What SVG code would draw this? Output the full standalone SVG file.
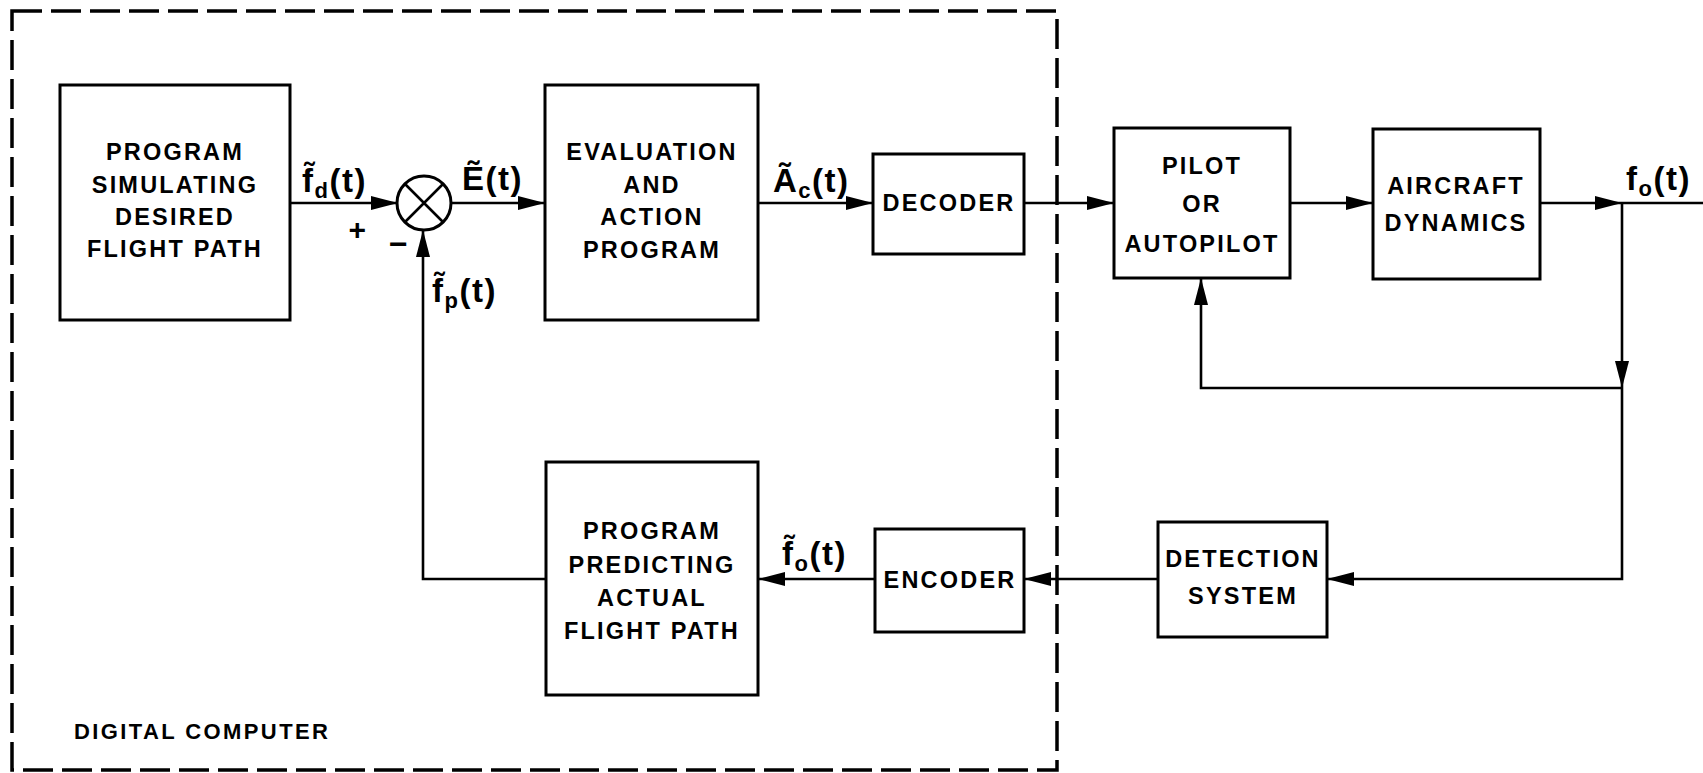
<svg xmlns="http://www.w3.org/2000/svg" width="1703" height="773" viewBox="0 0 1703 773">
  <style>
    .box { fill: #fff; stroke: #000; stroke-width: 3; }
    .lbl { font-family: "Liberation Sans", "DejaVu Sans", sans-serif; font-weight: bold; font-size: 23.5px; letter-spacing: 2.2px; text-anchor: middle; fill: #000; }
    .sig { font-family: "Liberation Sans", "DejaVu Sans", sans-serif; font-weight: bold; font-size: 33px; letter-spacing: 1.5px; fill: #000; }
    .sub { font-size: 22px; }
    .wire { fill: none; stroke: #000; stroke-width: 2.6; }
    .arrow { marker-end: url(#head); }
    .frame { fill: none; stroke: #000; stroke-width: 3.5; stroke-dasharray: 30 9; }
  </style>
  <defs>
    <marker id="head" markerUnits="userSpaceOnUse" markerWidth="28" markerHeight="14" refX="27" refY="7" orient="auto">
      <path d="M0,0 L27,7 L0,14 z" fill="#000"/>
    </marker>
  </defs>
  <rect width="1703" height="773" fill="#fff"/>

  <!-- digital computer boundary -->
  <g id="digital-computer">
    <rect class="frame" x="12" y="11" width="1045" height="759"/>
    <text class="lbl" x="74" y="739" style="text-anchor:start;font-size:22px;letter-spacing:2.4px">DIGITAL COMPUTER</text>
  </g>

  <!-- connectors -->
  <g id="connectors">
    <path class="wire arrow" d="M290,203 H398"/>
    <path class="wire arrow" d="M451,203 H545"/>
    <path class="wire arrow" d="M758,203 H873"/>
    <path class="wire arrow" d="M1024,203 H1114"/>
    <path class="wire arrow" d="M1290,203 H1373"/>
    <path class="wire arrow" d="M1540,203 H1622"/>
    <path class="wire" d="M1622,203 H1703"/>
    <path class="wire arrow" d="M1622,203 V388"/>
    <path class="wire arrow" d="M1622,388 H1201 V278"/>
    <path class="wire arrow" d="M1622,388 V579 H1327"/>
    <path class="wire arrow" d="M1158,579 H1024"/>
    <path class="wire arrow" d="M875,579 H758"/>
    <path class="wire arrow" d="M546,579 H423 V230"/>
  </g>

  <!-- signal labels -->
  <g id="signal-labels">
    <text class="sig" x="302" y="192">f̃<tspan class="sub" dy="6">d</tspan><tspan dy="-6">(t)</tspan></text>
    <text class="sig" x="462" y="190">Ẽ(t)</text>
    <text class="sig" x="773" y="192">Ã<tspan class="sub" dy="6">c</tspan><tspan dy="-6">(t)</tspan></text>
    <text class="sig" x="432" y="302">f̃<tspan class="sub" dy="6">p</tspan><tspan dy="-6">(t)</tspan></text>
    <text class="sig" x="1626" y="190">f<tspan class="sub" dy="6">o</tspan><tspan dy="-6">(t)</tspan></text>
    <text class="sig" x="782" y="565">f̃<tspan class="sub" dy="6">o</tspan><tspan dy="-6">(t)</tspan></text>
    <text class="sig" x="358" y="240" style="text-anchor:middle;font-size:30px">+</text>
    <text class="sig" x="399" y="255" style="text-anchor:middle;font-size:32px">−</text>
  </g>

  <g id="summing-junction">
    <circle cx="424" cy="203" r="27" fill="#fff" stroke="#000" stroke-width="3"/>
    <path d="M405,184 L443,222 M443,184 L405,222" stroke="#000" stroke-width="2.6"/>
  </g>

  <g id="desired-path">
    <rect class="box" x="60" y="85" width="230" height="235"/>
    <text class="lbl" x="175" y="160">PROGRAM</text>
    <text class="lbl" x="175" y="193">SIMULATING</text>
    <text class="lbl" x="175" y="225">DESIRED</text>
    <text class="lbl" x="175" y="257">FLIGHT PATH</text>
  </g>

  <g id="evaluation">
    <rect class="box" x="545" y="85" width="213" height="235"/>
    <text class="lbl" x="652" y="160">EVALUATION</text>
    <text class="lbl" x="652" y="193">AND</text>
    <text class="lbl" x="652" y="225">ACTION</text>
    <text class="lbl" x="652" y="258">PROGRAM</text>
  </g>

  <g id="decoder">
    <rect class="box" x="873" y="154" width="151" height="100"/>
    <text class="lbl" x="949" y="211">DECODER</text>
  </g>

  <g id="pilot">
    <rect class="box" x="1114" y="128" width="176" height="150"/>
    <text class="lbl" x="1202" y="174">PILOT</text>
    <text class="lbl" x="1202" y="212">OR</text>
    <text class="lbl" x="1202" y="252">AUTOPILOT</text>
  </g>

  <g id="aircraft">
    <rect class="box" x="1373" y="129" width="167" height="150"/>
    <text class="lbl" x="1456" y="194">AIRCRAFT</text>
    <text class="lbl" x="1456" y="231">DYNAMICS</text>
  </g>

  <g id="detection">
    <rect class="box" x="1158" y="522" width="169" height="115"/>
    <text class="lbl" x="1243" y="567">DETECTION</text>
    <text class="lbl" x="1243" y="604">SYSTEM</text>
  </g>

  <g id="encoder">
    <rect class="box" x="875" y="529" width="149" height="103"/>
    <text class="lbl" x="950" y="588">ENCODER</text>
  </g>

  <g id="predicting">
    <rect class="box" x="546" y="462" width="212" height="233"/>
    <text class="lbl" x="652" y="539">PROGRAM</text>
    <text class="lbl" x="652" y="573">PREDICTING</text>
    <text class="lbl" x="652" y="606">ACTUAL</text>
    <text class="lbl" x="652" y="639">FLIGHT PATH</text>
  </g>
</svg>
